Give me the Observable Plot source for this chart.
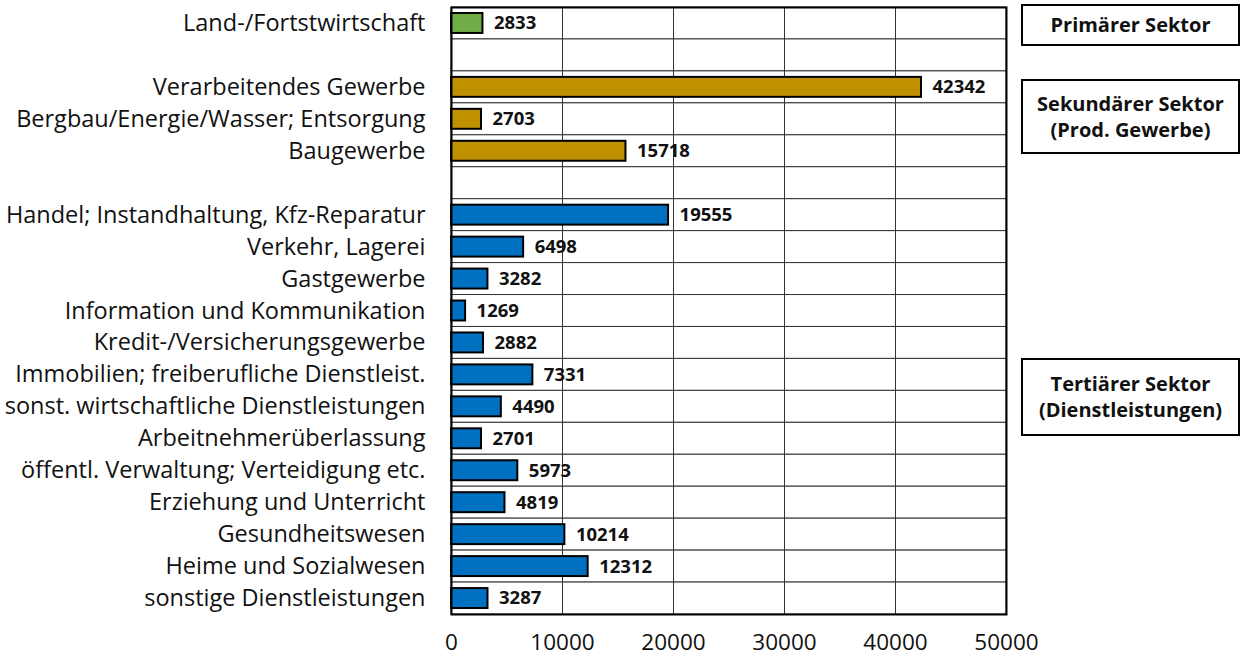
<!DOCTYPE html>
<html>
<head>
<meta charset="utf-8">
<script src="https://cdn.jsdelivr.net/npm/d3@7"></script>
<script src="https://cdn.jsdelivr.net/npm/@observablehq/plot@0.6"></script>
<style>
  body { margin: 0; background: #fff; font-family: "Open Sans", sans-serif; }
  #wrap { position: relative; width: 1241px; height: 658px; }
  .box { position: absolute; box-sizing: border-box; border: 2px solid #000; background: #fff;
         display: flex; align-items: center; justify-content: center; text-align: center;
         font-weight: bold; font-size: 20px; line-height: 1.3; color: #111; }
</style>
</head>
<body>
<div id="wrap"></div>
<script>
const categories = [
  "Land-/Fortstwirtschaft", " ",
  "Verarbeitendes Gewerbe", "Bergbau/Energie/Wasser; Entsorgung", "Baugewerbe", "  ",
  "Handel; Instandhaltung, Kfz-Reparatur", "Verkehr, Lagerei", "Gastgewerbe",
  "Information und Kommunikation", "Kredit-/Versicherungsgewerbe",
  "Immobilien; freiberufliche Dienstleist.", "sonst. wirtschaftliche Dienstleistungen",
  "Arbeitnehmerüberlassung", "öffentl. Verwaltung; Verteidigung etc.",
  "Erziehung und Unterricht", "Gesundheitswesen", "Heime und Sozialwesen",
  "sonstige Dienstleistungen"
];
const values = [2833, null, 42342, 2703, 15718, null, 19555, 6498, 3282, 1269, 2882, 7331, 4490, 2701, 5973, 4819, 10214, 12312, 3287];
const sectors = ["P", null, "S", "S", "S", null, "T", "T", "T", "T", "T", "T", "T", "T", "T", "T", "T", "T", "T"];
const sectorColors = {P: "#70AD47", S: "#BF9000", T: "#0070C0"};
const xTicks = [0, 10000, 20000, 30000, 40000, 50000];
const gridTicks = [10000, 20000, 30000, 40000];
const sectorBoxes = [
  {label: "Primärer Sektor", top: 4, height: 42},
  {label: "Sekundärer Sektor<br>(Prod. Gewerbe)", top: 79, height: 75},
  {label: "Tertiärer Sektor<br>(Dienstleistungen)", top: 358, height: 78}
];

const rows = categories.map((c, i) => ({name: c, value: values[i], sector: sectors[i]}));
const data = rows.filter(d => d.value != null);

const chart = Plot.plot({
  width: 1241,
  height: 658,
  marginLeft: 451,
  marginRight: 235,
  marginTop: 7,
  marginBottom: 44,
  style: {fontFamily: "'Open Sans', sans-serif", color: "#111", background: "transparent"},
  x: {domain: [0, 50000], ticks: xTicks, label: null},
  y: {domain: categories, padding: 0, round: false, label: null},
  marks: [
    Plot.barX(rows, {x1: 0, x2: 50000, y: "name", fill: "#fff", stroke: "#333", strokeWidth: 1}),
    Plot.ruleX(gridTicks, {stroke: "#333", strokeWidth: 1}),
    Plot.barX(data, {x: "value", y: "name", fill: d => sectorColors[d.sector], stroke: "#000", strokeWidth: 2, insetTop: 6, insetBottom: 6}),
    Plot.text(data, {x: "value", y: "name", text: d => String(d.value), textAnchor: "start", dx: 11, fontWeight: "bold", fontSize: 18.5, fill: "#111"}),
    Plot.frame({stroke: "#000", strokeWidth: 2}),
    Plot.axisY({tickSize: 0, tickPadding: 26, fontSize: 23.5, label: null}),
    Plot.axisX({ticks: xTicks, tickSize: 0, tickPadding: 20, fontSize: 22.5, label: null, tickFormat: d => String(d)})
  ]
});
const wrap = document.getElementById("wrap");
wrap.appendChild(chart);
for (const b of sectorBoxes) {
  const div = document.createElement("div");
  div.className = "box";
  div.style.left = "1021px";
  div.style.width = "219px";
  div.style.top = b.top + "px";
  div.style.height = b.height + "px";
  div.innerHTML = b.label;
  wrap.appendChild(div);
}
chart.style.position = "absolute";
chart.style.left = "0";
chart.style.top = "0";
</script>
</body>
</html>
